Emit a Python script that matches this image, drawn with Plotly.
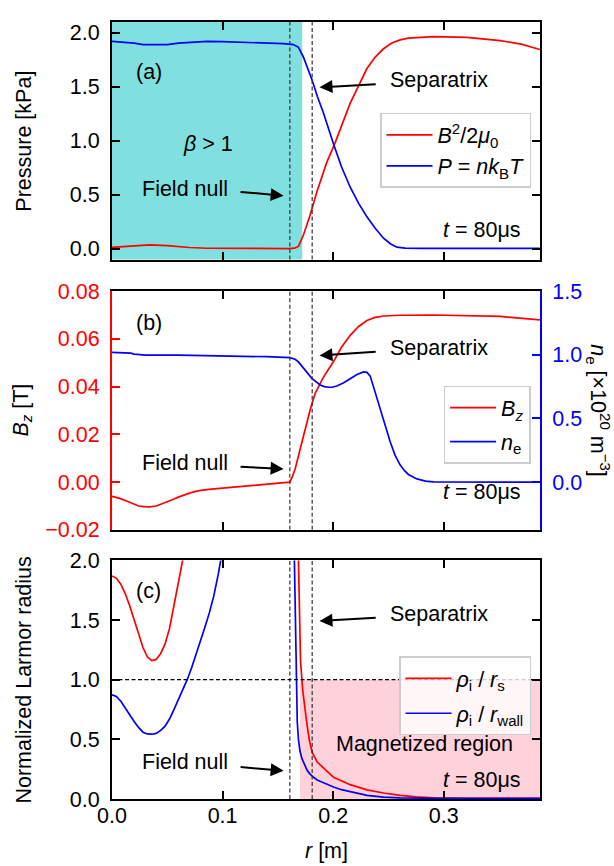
import plotly.graph_objects as go

# ---------------- data ----------------
# Panel (a): pressure profiles [kPa]
r_P = [0, 0.01, 0.02, 0.028, 0.04, 0.05, 0.06, 0.075, 0.086, 0.10, 0.116, 0.13, 0.146, 0.155,
       0.164, 0.1686, 0.1731, 0.177, 0.181, 0.1857, 0.1912, 0.2003, 0.2075, 0.2154, 0.223,
       0.2305, 0.238, 0.2455, 0.252, 0.2576, 0.265, 0.28, 0.30, 0.33, 0.36, 0.387]
P_kin = [1.921, 1.915, 1.905, 1.891, 1.889, 1.891, 1.905, 1.915, 1.921, 1.918, 1.912, 1.908, 1.905, 1.900,
         1.891, 1.866, 1.775, 1.67, 1.56, 1.41, 1.257, 0.97, 0.76, 0.57, 0.42,
         0.296, 0.19, 0.098, 0.045, 0.015, 0.006, 0.004, 0.004, 0.004, 0.004, 0.004]
r_PB = [0, 0.015, 0.034, 0.05, 0.07, 0.086, 0.12, 0.16, 0.165, 0.1686, 0.1731, 0.1791, 0.1852,
        0.1942, 0.2018, 0.2154, 0.2305, 0.238, 0.2455, 0.253, 0.2606, 0.268, 0.2908, 0.321, 0.351,
        0.37, 0.387]
P_mag = [0.013, 0.025, 0.037, 0.03, 0.012, 0.005, 0.002, 0.002, 0.006, 0.022, 0.128, 0.311, 0.525,
         0.8, 0.983, 1.349, 1.669, 1.775, 1.852, 1.905, 1.934, 1.95, 1.964, 1.957, 1.928,
         1.895, 1.845]

# Panel (b): Bz [T] and ne [1e20 m^-3]
r_Bz = [0, 0.007, 0.0136, 0.019, 0.0241, 0.029, 0.034, 0.040, 0.045, 0.0495, 0.055, 0.06, 0.065,
        0.07, 0.075, 0.08, 0.09, 0.10, 0.11, 0.125, 0.14, 0.15, 0.1608, 0.163, 0.1656, 0.1701,
        0.1746, 0.1792, 0.1837, 0.1912, 0.2003, 0.2075, 0.2154, 0.223, 0.2305, 0.238, 0.2455,
        0.2606, 0.2908, 0.321, 0.351, 0.387]
Bz = [-0.006, -0.0068, -0.008, -0.0092, -0.0100, -0.0103, -0.0104, -0.0100, -0.0092, -0.0084,
      -0.0073, -0.0063, -0.0054, -0.0046, -0.0040, -0.0035, -0.0029, -0.0025, -0.0021, -0.0016,
      -0.0011, -0.0007, 0.0, 0.0022, 0.0055, 0.0138, 0.022, 0.0303, 0.0372, 0.044, 0.0505,
      0.0565, 0.0615, 0.0652, 0.0677, 0.069, 0.0696, 0.0699, 0.0700, 0.0698, 0.0694, 0.068]
r_ne = [0, 0.017, 0.02, 0.0305, 0.06, 0.1, 0.14, 0.1608, 0.1656, 0.1686, 0.1746, 0.1807, 0.1882,
        0.192, 0.1957, 0.199, 0.2033, 0.2095, 0.2154, 0.2215, 0.2275, 0.2305, 0.2335, 0.2375,
        0.2425, 0.247, 0.2516, 0.256, 0.2606, 0.2645, 0.268, 0.2757, 0.2835, 0.2908, 0.32, 0.387]
ne = [1.019, 1.013, 1.006, 0.998, 0.997, 0.993, 0.985, 0.978, 0.965, 0.944, 0.879, 0.815, 0.763,
      0.750, 0.745, 0.745, 0.755, 0.78, 0.812, 0.845, 0.866, 0.862, 0.833, 0.72,
      0.574, 0.44, 0.315, 0.21, 0.134, 0.09, 0.06, 0.025, 0.008, 0.002, 0.0, 0.0]

# Panel (c): normalized Larmor radius
r_rs = [0, 0.004, 0.008, 0.012, 0.016, 0.020, 0.024, 0.028, 0.032, 0.036, 0.040, 0.044, 0.048,
        0.052, 0.056, 0.060, 0.064, 0.068, 0.075, 0.10, 0.14,
        0.166, 0.1686, 0.1695, 0.1705, 0.1725, 0.1745, 0.1762, 0.1785, 0.181, 0.1855, 0.1912,
        0.2003, 0.2154, 0.2305, 0.2455, 0.2606, 0.275, 0.2908, 0.32, 0.387]
rho_rs = [1.87, 1.85, 1.80, 1.72, 1.62, 1.50, 1.38, 1.27, 1.19, 1.16, 1.17, 1.22, 1.30,
          1.43, 1.62, 1.80, 1.99, 2.2, 2.8, 8.0, 8.0,
          3.5, 2.0, 1.45, 1.15, 0.907, 0.75, 0.632, 0.49, 0.39, 0.31, 0.26,
          0.182, 0.12, 0.077, 0.05, 0.03, 0.018, 0.01, 0.006, 0.005]
r_rw = [0, 0.004, 0.008, 0.012, 0.016, 0.020, 0.024, 0.028, 0.032, 0.036, 0.040, 0.044, 0.048,
        0.052, 0.056, 0.060, 0.064, 0.068, 0.072, 0.076, 0.080, 0.084, 0.088, 0.092, 0.096,
        0.099, 0.104, 0.12, 0.16, 0.1630, 0.1647, 0.1656, 0.1665, 0.1675, 0.1686, 0.170, 0.1717,
        0.174, 0.1762, 0.1785, 0.181, 0.1855, 0.1912, 0.2003, 0.2075, 0.2154, 0.2305, 0.2455,
        0.2606, 0.29, 0.387]
rho_rw = [0.874, 0.86, 0.82, 0.76, 0.70, 0.65, 0.60, 0.56, 0.545, 0.543, 0.55, 0.575, 0.61,
          0.67, 0.75, 0.83, 0.915, 1.0, 1.10, 1.21, 1.32, 1.44, 1.56, 1.70, 1.88,
          2.03, 2.3, 6.0, 6.0, 3.0, 2.0, 1.45, 0.95, 0.65, 0.50, 0.40, 0.34,
          0.285, 0.245, 0.215, 0.192, 0.16, 0.137, 0.10, 0.078, 0.06, 0.03, 0.016,
          0.01, 0.006, 0.005]

# reference radii
FIELD_NULL_R = 0.1608
SEPARATRIX_R = 0.181
BETA_EDGE_R = 0.172
MAGNETIZED_R = 0.170
R_MAX = 0.387

x_ticks = [0, 0.1, 0.2, 0.3]

# ---------------- figure ----------------
FONT = "Liberation Sans, Arial, sans-serif"
FS = 21.5
RED = "#ff0000"
BLUE = "#0000ff"
LW = 1.7

fig = go.Figure()

fig.add_trace(go.Scatter(x=r_PB, y=P_mag, mode="lines", line=dict(color=RED, width=LW),
                         name="<i>B</i><sup>2</sup>/2<i>μ</i><sub>0</sub>",
                         xaxis="x", yaxis="y", legend="legend", legendgroup="a1"))
fig.add_trace(go.Scatter(x=r_P, y=P_kin, mode="lines", line=dict(color=BLUE, width=LW),
                         name="<i>P</i> = <i>nk</i><sub>B</sub><i>T</i>",
                         xaxis="x", yaxis="y", legend="legend", legendgroup="a2"))
fig.add_trace(go.Scatter(x=r_Bz, y=Bz, mode="lines", line=dict(color=RED, width=LW),
                         name="<i>B<sub>z</sub></i>",
                         xaxis="x2", yaxis="y2", legend="legend2", legendgroup="b1"))
fig.add_trace(go.Scatter(x=r_ne, y=ne, mode="lines", line=dict(color=BLUE, width=LW),
                         name="<i>n</i><sub>e</sub>",
                         xaxis="x2", yaxis="y3", legend="legend2", legendgroup="b2"))
fig.add_trace(go.Scatter(x=r_rs, y=rho_rs, mode="lines", line=dict(color=RED, width=LW),
                         name="<i>ρ</i><sub>i</sub> / <i>r</i><sub>s</sub>",
                         xaxis="x3", yaxis="y4", legend="legend3", legendgroup="c1"))
fig.add_trace(go.Scatter(x=r_rw, y=rho_rw, mode="lines", line=dict(color=BLUE, width=LW),
                         name="<i>ρ</i><sub>i</sub> / <i>r</i><sub>wall</sub>",
                         xaxis="x3", yaxis="y4", legend="legend3", legendgroup="c2"))

dom_a = [0.6942, 1.0]
dom_b = [0.3464, 0.6536]
dom_c = [0.0, 0.3071]

def xax(anchor, labels):
    return dict(domain=[0, 1], anchor=anchor, range=[0, R_MAX], tickvals=x_ticks,
                tickformat=".1f", showticklabels=labels, ticks="inside", ticklen=8, tickwidth=2,
                tickcolor="black", showline=True, linecolor="black", linewidth=2,
                mirror="ticks", showgrid=False, zeroline=False,
                tickfont=dict(family=FONT, size=FS, color="black"), ticklabelstandoff=-4)

def yax(anchor, dom, rng, dtick, fmt, color="black", mirror="ticks", side="left"):
    return dict(domain=dom, anchor=anchor, range=rng, dtick=dtick, tick0=0, tickformat=fmt,
                ticks="inside", ticklen=8, tickwidth=2, tickcolor=color, showline=True,
                linecolor=color, linewidth=2, mirror=mirror, showgrid=False, zeroline=False,
                side=side, tickfont=dict(family=FONT, size=FS, color=color),
                ticklabelstandoff=6)

fig.update_layout(
    width=614, height=866,
    margin=dict(l=112, r=74, t=11, b=67),
    paper_bgcolor="white", plot_bgcolor="white",
    font=dict(family=FONT, size=FS, color="black"),
    xaxis=xax("y", False),
    xaxis2=xax("y2", False),
    xaxis3=xax("y4", True),
    yaxis=yax("x", dom_a, [-0.1, 2.1], 0.5, ".1f"),
    yaxis2=yax("x2", dom_b, [-0.02, 0.08], 0.02, ".2f", color=RED, mirror=False),
    yaxis3=dict(yax("x2", dom_b, [-0.375, 1.5], 0.5, ".1f", color=BLUE, mirror=False,
                    side="right"), overlaying="y2"),
    yaxis4=yax("x3", dom_c, [0, 2], 0.5, ".1f"),
)

leg_common = dict(xanchor="right", yanchor="top", bgcolor="rgba(255,255,255,0.8)",
                  bordercolor="#cccccc", borderwidth=1.5, itemwidth=46,
                  font=dict(family=FONT, size=FS, color="black"))
fig.update_layout(
    legend=dict(leg_common, x=0.979, y=0.883, tracegroupgap=0),
    legend2=dict(leg_common, x=0.978, y=0.532, tracegroupgap=3),
    legend3=dict(leg_common, x=0.979, y=0.1836, tracegroupgap=4),
)

shapes = []
# beta > 1 region in (a), magnetized region in (c)
shapes.append(dict(type="rect", xref="x", yref="y domain", x0=0, x1=BETA_EDGE_R, y0=0, y1=1,
                   fillcolor="#80dfdf", line=dict(width=0), layer="below"))
shapes.append(dict(type="rect", xref="x3", yref="y4", x0=MAGNETIZED_R, x1=R_MAX, y0=0, y1=1,
                   fillcolor="#ffd1da", line=dict(width=0), layer="below"))
for xr, yr in [("x", "y domain"), ("x2", "y2 domain"), ("x3", "y4 domain")]:
    for rv in (FIELD_NULL_R, SEPARATRIX_R):
        shapes.append(dict(type="line", xref=xr, yref=yr, x0=rv, x1=rv, y0=0, y1=1,
                           line=dict(color="#333333", width=1.2, dash="4px,2.5px"), layer="above"))
shapes.append(dict(type="line", xref="x3 domain", yref="y4", x0=0, x1=1, y0=1, y1=1,
                   line=dict(color="black", width=1.2, dash="4px,2.5px"), layer="above"))
fig.update_layout(shapes=shapes)

ann = []
def txt(x, y, s, xr, yr, xanchor="center"):
    ann.append(dict(x=x, y=y, xref=xr, yref=yr, text=s, showarrow=False, xanchor=xanchor,
                    yanchor="middle", font=dict(family=FONT, size=FS, color="black")))

def arrow(x, y, ax, ay, xr, yr):
    ann.append(dict(x=x, y=y, ax=ax, ay=ay, xref=xr, yref=yr, axref=xr, ayref=yr, text="",
                    showarrow=True, arrowhead=2, arrowsize=1.3, arrowwidth=2, arrowcolor="black"))

# panel (a)
txt(0.033, 1.635, "(a)", "x", "y")
txt(0.0869, 0.967, "<i>β</i> > 1", "x", "y")
txt(0.0661, 0.555, "Field null", "x", "y")
arrow(0.1552, 0.491, 0.1149, 0.528, "x", "y")
txt(0.2955, 1.562, "Separatrix", "x", "y")
arrow(0.1876, 1.495, 0.2398, 1.525, "x", "y")
txt(0.3717, 0.174, "<i>t</i> = 80μs", "x", "y", xanchor="right")
# panel (b)
txt(0.033, 0.0666, "(b)", "x2", "y2")
txt(0.0661, 0.0081, "Field null", "x2", "y2")
arrow(0.1552, 0.0055, 0.1149, 0.00645, "x2", "y2")
txt(0.2955, 0.056, "Separatrix", "x2", "y2")
arrow(0.1876, 0.0530, 0.2398, 0.0547, "x2", "y2")
txt(0.3717, -0.0041, "<i>t</i> = 80μs", "x2", "y2", xanchor="right")
# panel (c)
txt(0.033, 1.742, "(c)", "x3", "y4")
txt(0.0661, 0.31, "Field null", "x3", "y4")
arrow(0.1552, 0.236, 0.1149, 0.269, "x3", "y4")
txt(0.2955, 1.552, "Separatrix", "x3", "y4")
arrow(0.1876, 1.492, 0.2398, 1.519, "x3", "y4")
txt(0.2828, 0.462, "Magnetized region", "x3", "y4")
txt(0.3717, 0.159, "<i>t</i> = 80μs", "x3", "y4", xanchor="right")

# axis titles
def title(x, y, s, angle):
    ann.append(dict(x=x, y=y, xref="paper", yref="paper", text=s, showarrow=False,
                    textangle=angle, xanchor="center", yanchor="middle",
                    font=dict(family=FONT, size=FS, color="black")))

title(-0.206, sum(dom_a) / 2, "Pressure [kPa]", -90)
title(-0.210, sum(dom_b) / 2, "<i>B<sub>z</sub></i> [T]", -90)
title(-0.206, sum(dom_c) / 2, "Normalized Larmor radius", -90)
title(1.136, sum(dom_b) / 2, "<i>n</i><sub>e</sub> [×10<sup>20</sup> m<sup>−3</sup>]", 90)
title(0.5, -0.0669, "<i>r</i> [m]", 0)

fig.update_layout(annotations=ann)

fig.write_html("out.html")
